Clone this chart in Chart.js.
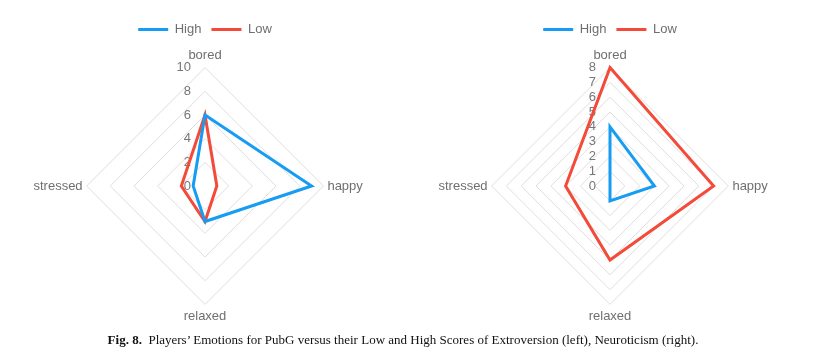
<!DOCTYPE html>
<html>
<head>
<meta charset="utf-8">
<script src="https://cdn.jsdelivr.net/npm/chart.js@4/dist/chart.umd.min.js"></script>
<style>
    body { margin: 0; background: #ffffff; width: 820px; height: 360px; position: relative; overflow: hidden; }
    .chart-box { position: absolute; top: 0; width: 400px; height: 334px; }
    #left_box { left: 5px; }
    #right_box { left: 410px; }
    #caption {
        position: absolute; left: 0; width: 806px; top: 332px;
        text-align: center; font-family: "Liberation Serif", serif; font-size: 13px; color: #111;
    }
</style>
</head>
<body>
<div class="chart-box" id="left_box"><canvas id="left_chart"></canvas></div>
<div class="chart-box" id="right_box"><canvas id="right_chart"></canvas></div>
<div id="caption"><b>Fig. 8.</b>&nbsp; Players’ Emotions for PubG versus their Low and High Scores of Extroversion (left), Neuroticism (right).</div>

<script>
// categories (clockwise from the top)
const emotions = ['bored', 'happy', 'relaxed', 'stressed'];

// Extroversion (left chart)
const extroHigh = [6, 9, 3, 1];
const extroLow = [6, 1, 3, 2];
const extroMax = 10;
const extroStep = 2;

// Neuroticism (right chart)
const neuroHigh = [4, 3, 1, 0];
const neuroLow = [8, 7, 5, 3];
const neuroMax = 8;
const neuroStep = 1;

const seriesNames = ['High', 'Low'];
const blue = '#169cf2';
const red = '#f44a39';
const grey = '#6f6f6f';
const fontName = '"Liberation Sans", Arial, sans-serif';

// draws the tick numbers to the left of the vertical axis, "0" included
const tickLabelPlugin = {
    id: 'tickLabels',
    beforeDatasetsDraw(chart) {
        let scale = chart.scales.r;
        let ctx = chart.ctx;
        ctx.save();
        ctx.font = '13px ' + fontName;
        ctx.fillStyle = '#777777';
        ctx.textAlign = 'right';
        ctx.textBaseline = 'middle';
        scale.ticks.forEach(function(tick) {
            let r = scale.getDistanceFromCenterForValue(tick.value);
            ctx.fillText(tick.label, scale.xCenter - 14, scale.yCenter - r);
        });
        ctx.restore();
    }
};

// a little more room under the legend
const legendSpacePlugin = {
    id: 'legendSpace',
    beforeInit(chart) {
        const originalFit = chart.legend.fit;
        chart.legend.fit = function() {
            originalFit.bind(chart.legend)();
            this.height += 3;
        };
    }
};

function makeRadar(canvasId, highValues, lowValues, maxValue, step) {
    const data = {
        labels: emotions,
        datasets: [{
            label: seriesNames[0],
            data: highValues,
            borderColor: blue,
            backgroundColor: blue,
            borderWidth: 3,
            fill: false,
            pointRadius: 0,
            pointHoverRadius: 0
        }, {
            label: seriesNames[1],
            data: lowValues,
            borderColor: red,
            backgroundColor: red,
            borderWidth: 3,
            fill: false,
            pointRadius: 0,
            pointHoverRadius: 0
        }]
    };
    const config = {
        type: 'radar',
        data: data,
        plugins: [tickLabelPlugin, legendSpacePlugin],
        options: {
            responsive: false,
            animation: false,
            layout: { padding: { top: 13, bottom: 9 } },
            plugins: {
                legend: {
                    position: 'top',
                    labels: {
                        usePointStyle: true,
                        pointStyle: 'line',
                        pointStyleWidth: 30,
                        color: grey,
                        font: { family: fontName, size: 13 },
                        padding: 10
                    }
                },
                tooltip: { enabled: false }
            },
            scales: {
                r: {
                    min: 0,
                    max: maxValue,
                    ticks: { stepSize: step, display: false },
                    angleLines: { display: false },
                    grid: { color: '#dedede', lineWidth: 1 },
                    pointLabels: {
                        color: grey,
                        font: { family: fontName, size: 13 },
                        padding: 4
                    }
                }
            }
        }
    };
    let canvas = document.getElementById(canvasId);
    canvas.width = 400;
    canvas.height = 334;
    return new Chart(canvas, config);
}

makeRadar('left_chart', extroHigh, extroLow, extroMax, extroStep);
makeRadar('right_chart', neuroHigh, neuroLow, neuroMax, neuroStep);
</script>
</body>
</html>
